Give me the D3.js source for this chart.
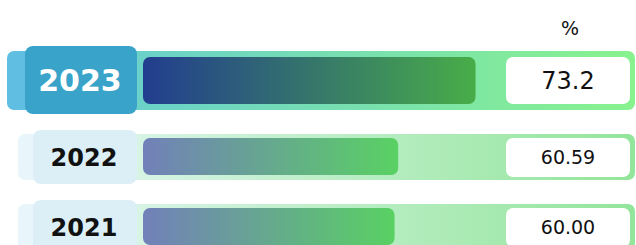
<!DOCTYPE html>
<html lang="en">
<head>
  <meta charset="UTF-8" />
  <title>Yearly percentage bars</title>
  <script src="https://d3js.org/d3.v7.min.js"></script>
  <style>
    html, body { margin: 0; padding: 0; background: #fff; }
    svg { display: block; font-family: "DejaVu Sans", sans-serif; }
  </style>
</head>
<body>
  <svg width="636" height="245"></svg>

  <script>
    const svg = d3.select("svg");
    const width = +svg.attr("width");

    // data
    const years = ["2023", "2022", "2021"];
    const values = [73.2, 60.59, 60.00];
    const valueLabels = ["73.2", "60.59", "60.00"];
    const highlightYear = "2023";
    const unitLabel = "%";

    // horizontal scale for bar lengths
    const x = d3.scaleLinear().domain([19, 100]).range([143, 640]);

    // row layout: highlighted row is taller
    const gap = 24;
    let rowTop = 51;
    const rows = years.map((y, i) => {
      const hi = y === highlightYear;
      const h = hi ? 59 : 46;
      const r = { year: y, value: values[i], label: valueLabels[i], hi, top: rowTop, h };
      rowTop += h + gap;
      return r;
    });

    // gradients
    const defs = svg.append("defs");
    function grad(id, c0, c1) {
      const g = defs.append("linearGradient").attr("id", id)
        .attr("x1", "0%").attr("x2", "100%").attr("y1", "0%").attr("y2", "0%");
      g.append("stop").attr("offset", "0%").attr("stop-color", c0);
      g.append("stop").attr("offset", "100%").attr("stop-color", c1);
    }
    grad("trackHi", "#6ad0cb", "#88f28e");
    grad("trackLo", "#d9f4e7", "#93e59b");
    grad("barHi", "#223d8f", "#48ad48");
    grad("barLo", "#7280b9", "#59d163");

    // unit header
    svg.append("text")
      .attr("x", 570).attr("y", 35)
      .attr("text-anchor", "middle")
      .attr("font-size", 19)
      .attr("fill", "#111")
      .text(unitLabel);

    const g = svg.selectAll("g.row").data(rows).join("g").attr("class", "row");

    // back tab on the left
    g.append("rect")
      .attr("x", d => d.hi ? 7 : 18)
      .attr("y", d => d.top)
      .attr("width", 60)
      .attr("height", d => d.h)
      .attr("rx", 7)
      .attr("fill", d => d.hi ? "#5fbee2" : "#e8f5fa");

    // track
    g.append("rect")
      .attr("x", 120)
      .attr("y", d => d.top)
      .attr("width", width - 1 - 120)
      .attr("height", d => d.h)
      .attr("rx", 7)
      .attr("fill", d => d.hi ? "url(#trackHi)" : "url(#trackLo)");

    // year label box
    g.append("rect")
      .attr("x", d => d.hi ? 25 : 33)
      .attr("y", d => d.top - (d.hi ? 5 : 4))
      .attr("width", d => d.hi ? 112 : 104)
      .attr("height", d => d.h + (d.hi ? 9 : 8))
      .attr("rx", 8)
      .attr("fill", d => d.hi ? "#3aa3c9" : "#dceff6");

    g.append("text")
      .attr("x", d => d.hi ? 80 : 84)
      .attr("y", d => d.top + d.h / 2)
      .attr("dy", "0.36em")
      .attr("text-anchor", "middle")
      .attr("font-weight", "bold")
      .attr("font-size", d => d.hi ? 30 : 24)
      .attr("fill", d => d.hi ? "#fff" : "#111")
      .text(d => d.year);

    // value bar
    g.append("rect")
      .attr("x", x(19))
      .attr("y", d => d.top + (d.hi ? 6 : 4))
      .attr("width", d => x(d.value) - x(19))
      .attr("height", d => d.h - (d.hi ? 12 : 9))
      .attr("rx", 7)
      .attr("fill", d => d.hi ? "url(#barHi)" : "url(#barLo)");

    // value box
    g.append("rect")
      .attr("x", 506)
      .attr("y", d => d.top + (d.hi ? 6 : 4))
      .attr("width", 124)
      .attr("height", d => d.h - (d.hi ? 12 : 7))
      .attr("rx", 7)
      .attr("fill", "#fff");

    g.append("text")
      .attr("x", 568)
      .attr("y", d => d.top + (d.hi ? 6 : 4) + (d.h - (d.hi ? 12 : 7)) / 2)
      .attr("dy", "0.36em")
      .attr("text-anchor", "middle")
      .attr("font-size", d => d.hi ? 24 : 19)
      .attr("fill", "#111")
      .text(d => d.label);
  </script>
</body>
</html>
